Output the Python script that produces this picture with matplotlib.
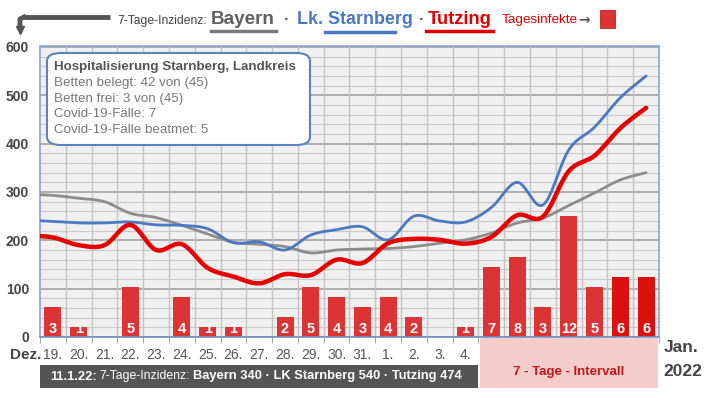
import matplotlib
matplotlib.use("Agg")
import matplotlib.pyplot as plt
from matplotlib.patches import FancyBboxPatch, Rectangle
from matplotlib.lines import Line2D
import numpy as np

plt.rcParams['font.family'] = ['Liberation Sans', 'DejaVu Sans']

# days shown on the x axis (19.12.2021 - 11.01.2022)
days = ["19.", "20.", "21.", "22.", "23.", "24.", "25.", "26.", "27.", "28.", "29.", "30.",
        "31.", "1.", "2.", "3.", "4.", "5.", "6.", "7.", "8.", "9.", "10.", "11."]

# daily infections Tutzing (bars)
infekte = [3, 1, 0, 5, 0, 4, 1, 1, 0, 2, 5, 4, 3, 4, 2, 0, 1, 7, 8, 3, 12, 5, 6, 6]
bar_scale = 20.8  # bar height per infection, in incidence units

# 7-day incidences, starting one day earlier (18.12.) so lines run to the left edge
bayern = [296, 293, 287, 280, 256, 247, 231, 213, 196, 192, 187, 174, 180, 182,
          183, 187, 194, 201, 215, 236, 246, 272, 298, 325, 340]
starnberg = [242, 239, 236, 236, 238, 232, 231, 224, 195, 197, 180, 211, 222, 228,
             201, 250, 240, 238, 268, 320, 273, 387, 434, 495, 540]
tutzing = [210, 206, 190, 190, 232, 180, 192, 143, 125, 111, 130, 128, 160, 153,
           194, 203, 201, 193, 207, 252, 249, 343, 375, 432, 474]

hosp_title = "Hospitalisierung Starnberg, Landkreis"
hosp_lines = ["Betten belegt: 42 von (45)", "Betten frei: 3 von (45)",
              "Covid-19-Fälle: 7", "Covid-19-Fälle beatmet: 5"]


def smooth(x, y, n=12):
    """catmull-rom curve through the points (only for drawing)"""
    pts = np.array([x, y], dtype=float).T
    p = np.vstack([pts[0], pts, pts[-1]])
    out = []
    t = np.linspace(0, 1, n, endpoint=False)[:, None]
    for i in range(1, len(p) - 2):
        p0, p1, p2, p3 = p[i - 1], p[i], p[i + 1], p[i + 2]
        seg = 0.5 * (2 * p1 + (-p0 + p2) * t + (2 * p0 - 5 * p1 + 4 * p2 - p3) * t ** 2
                     + (-p0 + 3 * p1 - 3 * p2 + p3) * t ** 3)
        out.append(seg)
    out.append(pts[-1:])
    s = np.vstack(out)
    return s[:, 0], s[:, 1]


W, H = 706, 399
fig = plt.figure(figsize=(W / 100, H / 100), dpi=100)
renderer = fig.canvas.get_renderer()


def fx(px):
    return px / W


def fy(py):
    return 1 - py / H


def fit_text(x, y, s, width, size=10, **kw):
    """put text at pixel x,y and shrink/grow it to the given pixel width"""
    t = fig.text(fx(x), fy(y), s, fontsize=size, va="center", **kw)
    w = t.get_window_extent(renderer).width
    t.set_fontsize(size * width / w)
    return t


def seq_text(x, y, pieces, gap=3):
    """texts one after the other from pixel x"""
    for s, kw in pieces:
        t = fig.text(fx(x), fy(y), s, va="center", **kw)
        x += t.get_window_extent(renderer).width + gap
    return x


ax = fig.add_axes([fx(40), fy(337), fx(659) - fx(40), fy(46) - fy(337)])
ax.set_facecolor("#f0f0f0")
ax.set_xlim(-0.5, len(days) - 0.5)
ax.set_ylim(0, 602)

# grid
for v in range(0, 601, 20):
    if v % 100 == 0:
        ax.axhline(v, color="#9a9a9a", lw=1.1, zorder=1)
    else:
        ax.axhline(v, color="#cacaca", lw=0.8, zorder=1)
for i in range(len(days)):
    ax.axvline(i + 0.5, color="#c4c4c4", lw=1.0, zorder=1)

# bars
xb = np.arange(len(days))
heights = np.array(infekte) * bar_scale
cols = ["#dc3434"] * len(days)
cols[-1] = cols[-2] = "#dd1010"
ax.bar(xb, heights, width=0.66, color=cols, zorder=2)
for x, n in zip(xb, infekte):
    if n > 0:
        ax.text(x, 3, str(n), ha="center", va="bottom", color="white",
                fontsize=10.5, fontweight="bold", zorder=3)

# lines
xl = np.arange(-1, len(days))
for vals, col, lw in [(bayern, "#8c8c8c", 2.0), (starnberg, "#4a78c2", 2.0), (tutzing, "#e60000", 3.2)]:
    sx, sy = smooth(xl, vals)
    ax.plot(sx, sy, color=col, lw=lw, zorder=4, solid_capstyle="round")

# axes styling
ax.set_yticks(range(0, 601, 100))
ax.tick_params(axis="y", length=0, labelsize=10, labelcolor="#444444", pad=8)
for lab in ax.get_yticklabels():
    lab.set_fontweight("bold")
ax.set_xticks(xb)
ax.set_xticklabels(days)
ax.tick_params(axis="x", length=0, labelsize=10, labelcolor="#555555", pad=8)
ax.set_xticks(np.arange(len(days) + 1) - 0.5, minor=True)
ax.tick_params(axis="x", which="minor", length=4, color="#999999")
for s in ax.spines.values():
    s.set_color("#8aa6d2")
    s.set_linewidth(1.2)
ax.spines["bottom"].set_color("#6e8fc4")

# hospital info box
box = FancyBboxPatch((fx(47), fy(145)), fx(310) - fx(47), fy(53) - fy(145),
                     boxstyle="round,pad=0,rounding_size=0.02", transform=fig.transFigure,
                     facecolor="white", edgecolor="#5b85c0", lw=1.5, zorder=5)
fig.patches.append(box)
fit_text(54, 67, hosp_title, 243, fontweight="bold", color="#555555", zorder=6)
for k, line in enumerate(hosp_lines):
    fig.text(fx(54), fy(83 + 15.7 * k), line, fontsize=9.6, color="#777777", va="center", zorder=6)

# top legend
fig.lines.append(Line2D([fx(110), fx(24)], [fy(17), fy(17)], transform=fig.transFigure,
                        color="#555555", lw=3.5, solid_capstyle="butt"))
fig.lines.append(Line2D([fx(24), fx(20), fx(20)], [fy(17), fy(19), fy(27)], transform=fig.transFigure,
                        color="#555555", lw=3.5, solid_joinstyle="round"))
fig.lines.append(Line2D([fx(20)], [fy(30)], transform=fig.transFigure, marker="v",
                        markersize=6, color="#555555"))
fit_text(117, 21, "7-Tage-Inzidenz:", 90, color="#444444")
fit_text(211, 20, "Bayern", 64, fontweight="bold", color="#606060")
fig.lines.append(Line2D([fx(211), fx(276)], [fy(31), fy(31)], transform=fig.transFigure, color="#7a7a7a", lw=2.5))
fig.text(fx(284), fy(20), "·", fontsize=12, fontweight="bold", color="#606060", va="center")
fit_text(297, 20, "Lk. Starnberg", 116, fontweight="bold", color="#4a78c2")
fig.lines.append(Line2D([fx(325), fx(395)], [fy(32), fy(32)], transform=fig.transFigure, color="#4a78c2", lw=2.5))
fig.text(fx(419), fy(20), "·", fontsize=12, fontweight="bold", color="#606060", va="center")
fit_text(428, 20, "Tutzing", 64, fontweight="bold", color="#e00000")
fig.lines.append(Line2D([fx(426), fx(493)], [fy(31), fy(31)], transform=fig.transFigure, color="#e00000", lw=2.5))
fit_text(502, 20, "Tagesinfekte", 76, color="#e00000")
fig.text(fx(578), fy(20), "→", fontsize=10, fontweight="bold", color="#555555", va="center",
         family=["DejaVu Sans"])
fig.patches.append(Rectangle((fx(600), fy(28)), fx(615) - fx(600), fy(10) - fy(28),
                             transform=fig.transFigure, facecolor="#dc3434", edgecolor="#c02020", lw=0.6))

# bottom labels
fig.text(fx(41), fy(355), "Dez.", fontsize=11, fontweight="bold", color="#444444",
         ha="right", va="center")
fig.text(fx(664), fy(347), "Jan.", fontsize=12.5, fontweight="bold", color="#444444", va="center")
fig.text(fx(663), fy(372), "2022", fontsize=12.5, fontweight="bold", color="#444444", va="center")

fig.patches.append(Rectangle((fx(480), fy(388)), fx(658) - fx(480), fy(338) - fy(388),
                             transform=fig.transFigure, facecolor="#f5cccc", edgecolor="none", zorder=0))
fig.text(fx(569), fy(372), "7 - Tage - Intervall", fontsize=9.5, fontweight="bold", color="#c01818",
         ha="center", va="center")

fig.patches.append(Rectangle((fx(40), fy(388)), fx(478) - fx(40), fy(365) - fy(388),
                             transform=fig.transFigure, facecolor="#555555", edgecolor="none"))
seq_text(50, 376.5, [("11.1.22:", dict(fontsize=9.3, fontweight="bold", color="white")),
                     ("7-Tage-Inzidenz:", dict(fontsize=8.8, color="white")),
                     ("Bayern 340 · LK Starnberg 540 · Tutzing 474",
                      dict(fontsize=9.3, fontweight="bold", color="white"))])

fig.savefig("out.png", dpi=100)
